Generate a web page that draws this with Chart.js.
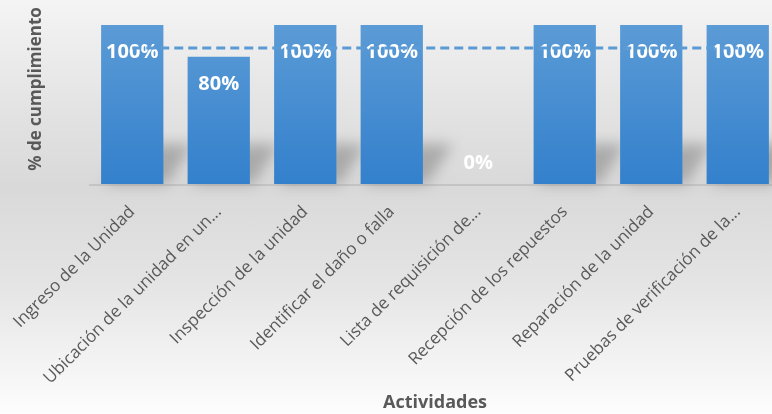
<!DOCTYPE html>
<html lang="es">
<head>
<meta charset="UTF-8">
<title>% de cumplimiento por actividad</title>
<script src="https://cdn.jsdelivr.net/npm/chart.js@4.4.1/dist/chart.umd.min.js"></script>
<style>
    html, body {
        margin: 0;
        padding: 0;
        overflow: hidden;
        width: 772px;
        height: 414px;
    }
    body {
        background: linear-gradient(to bottom, #f4f4f4 0%, #e2e2e2 28%, #d9d9d9 45%, #e4e4e4 68%, #fdfdfd 100%);
    }
    .chart-box {
        position: relative;
        width: 781px;
        height: 414px;
    }
</style>
</head>
<body>
<div class="chart-box">
    <canvas id="cumplimientoChart" width="781" height="414"></canvas>
</div>
<script>
    // --- datos ---
    const actividades = [
        'Ingreso de la Unidad',
        'Ubicación de la unidad en un...',
        'Inspección de la unidad',
        'Identificar el daño o falla',
        'Lista de requisición de...',
        'Recepción de los repuestos',
        'Reparación de la unidad',
        'Pruebas de verificación de la...'
    ];
    const cumplimiento = [100, 80, 100, 100, 0, 100, 100, 100];
    const meta = [100, 100, 100, 100, 100, 100, 100, 100];
    const tituloY = '% de cumplimiento';

    // sombra inclinada detrás de cada barra
    const sombraBarras = {
        id: 'sombraBarras',
        beforeDatasetsDraw(chart) {
            const ctx = chart.ctx;
            const m = chart.getDatasetMeta(0);
            ctx.save();
            ctx.filter = 'blur(7px)';
            ctx.fillStyle = 'rgba(120,120,120,0.5)';
            m.data.forEach((bar, i) => {
                if (!cumplimiento[i]) return;
                const l = bar.x - bar.width / 2, r = bar.x + bar.width / 2;
                const base = bar.base;
                ctx.beginPath();
                ctx.moveTo(l + 4, base);
                ctx.lineTo(r + 4, base);
                ctx.lineTo(r + 30, base - 40);
                ctx.lineTo(l + 30, base - 40);
                ctx.closePath();
                ctx.fill();
            });
            ctx.filter = 'none';
            ctx.fillStyle = 'rgba(150,150,150,0.3)';
            const a = chart.chartArea;
            ctx.fillRect(a.left, a.bottom, a.right - a.left, 2);
            ctx.restore();
        }
    };

    // etiquetas de valor dentro de las barras (antes de dibujar la línea)
    const etiquetas = {
        id: 'etiquetas',
        afterDatasetDraw(chart, args) {
            if (args.index !== 0) return;
            const ctx = chart.ctx;
            ctx.save();
            ctx.font = 'bold 20px "Open Sans"';
            ctx.fillStyle = '#ffffff';
            ctx.textAlign = 'center';
            ctx.textBaseline = 'middle';
            args.meta.data.forEach((bar, i) => {
                let y = bar.y + 27;
                if (y > bar.base - 21) y = bar.base - 21;
                ctx.fillText(cumplimiento[i] + '%', bar.x, y);
            });
            ctx.restore();
        }
    };

    // título del eje vertical
    const tituloEjeY = {
        id: 'tituloEjeY',
        afterDraw(chart) {
            const ctx = chart.ctx;
            ctx.save();
            ctx.translate(36, 89);
            ctx.rotate(-Math.PI / 2);
            ctx.font = 'bold 17px "Open Sans"';
            ctx.fillStyle = '#595959';
            ctx.textAlign = 'center';
            ctx.textBaseline = 'middle';
            ctx.fillText(tituloY, 0, 0);
            ctx.restore();
        }
    };

    const ctx = document.getElementById('cumplimientoChart').getContext('2d');
    new Chart(ctx, {
        data: {
            labels: actividades,
            datasets: [{
                type: 'bar',
                label: tituloY,
                data: cumplimiento,
                order: 1,
                yAxisID: 'y',
                backgroundColor: (c) => {
                    const area = c.chart.chartArea;
                    if (!area) return '#4a8fd3';
                    const g = c.chart.ctx.createLinearGradient(0, area.top, 0, area.bottom);
                    g.addColorStop(0, '#5b9bd6');
                    g.addColorStop(1, '#3380cc');
                    return g;
                },
                borderWidth: 0,
                categoryPercentage: 0.72,
                barPercentage: 1.0
            }, {
                type: 'line',
                label: 'Meta',
                data: meta,
                order: 0,
                yAxisID: 'y1',
                borderColor: '#5b9bd5',
                borderWidth: 3,
                borderDash: [9, 5],
                pointRadius: 0,
                fill: false
            }]
        },
        options: {
            responsive: false,
            animation: false,
            layout: { padding: { top: 25, left: 89, right: 0, bottom: 0 } },
            plugins: {
                legend: { display: false },
                tooltip: { enabled: false }
            },
            scales: {
                x: {
                    grid: { display: false },
                    border: { display: false },
                    afterFit(scale) {
                        scale.paddingLeft = 0;
                        scale.paddingRight = 0;
                        scale.height = 230;
                    },
                    ticks: {
                        autoSkip: false,
                        minRotation: 45,
                        maxRotation: 45,
                        color: '#595959',
                        font: { family: '"Open Sans"', size: 17 },
                        padding: 10
                    },
                    title: {
                        display: true,
                        text: 'Actividades',
                        color: '#595959',
                        font: { family: '"Open Sans"', size: 18, weight: 'bold' },
                        padding: { top: 0, bottom: 0 }
                    }
                },
                y: {
                    display: false,
                    min: 0,
                    max: 100
                },
                y1: {
                    display: false,
                    min: 0,
                    max: 117
                }
            }
        },
        plugins: [sombraBarras, etiquetas, tituloEjeY]
    });
</script>
</body>
</html>
